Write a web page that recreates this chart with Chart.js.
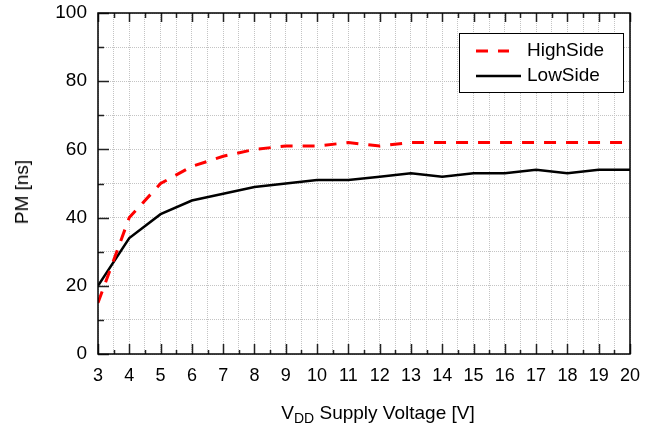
<!DOCTYPE html>
<html>
<head>
<meta charset="utf-8">
<script src="https://cdn.jsdelivr.net/npm/chart.js@4.4.0/dist/chart.umd.min.js"></script>
<style>
  body { margin: 0; background: #fff; }
  #wrap { position: relative; width: 650px; height: 431px; font-family: "Liberation Sans", Arial, sans-serif; color: #000; }
  #xTitle { position: absolute; left: 378px; top: 402px; transform: translateX(-50%); font-size: 19px; white-space: nowrap; }
  #xTitle sub { font-size: 14px; vertical-align: -4px; line-height: 0; }
  #yTitle { position: absolute; left: 22px; top: 192px; transform: translate(-50%, -50%) rotate(-90deg); font-size: 19px; white-space: nowrap; }
</style>
</head>
<body>
<div id="wrap">
  <canvas id="chart" width="650" height="431"></canvas>
  <div id="xTitle">V<sub>DD</sub> Supply Voltage [V]</div>
  <div id="yTitle">PM [ns]</div>
</div>
<script>
// supply voltage (V) and propagation delay (ns)
const voltage = [3, 4, 5, 6, 7, 8, 9, 10, 11, 12, 13, 14, 15, 16, 17, 18, 19, 20];
const highSide = [15, 40, 50, 55, 58, 60, 61, 61, 62, 61, 62, 62, 62, 62, 62, 62, 62, 62];
const lowSide = [20, 34, 41, 45, 47, 49, 50, 51, 51, 52, 53, 52, 53, 53, 54, 53, 54, 54];
const seriesNames = ['HighSide', 'LowSide'];

const FONT = '"Liberation Sans", Arial, sans-serif';

const toPoints = (ys) => voltage.map((v, i) => ({ x: v, y: ys[i] }));

// frame, inward tick marks and the boxed legend
const framePlugin = {
  id: 'frame',
  afterDatasetsDraw(chart) {
    const { ctx, chartArea: a, scales } = chart;
    ctx.save();
    ctx.strokeStyle = '#222';
    ctx.lineWidth = 1.5;
    ctx.beginPath();
    scales.x.ticks.forEach((t) => {
      const px = Math.round(scales.x.getPixelForValue(t.value)) + 0.5;
      const major = Number.isInteger(t.value);
      ctx.moveTo(px, a.bottom);
      ctx.lineTo(px, a.bottom - (major ? 10 : 4));
      ctx.moveTo(px, a.top);
      ctx.lineTo(px, a.top + (major ? 9 : 5));
    });
    scales.y.ticks.forEach((t) => {
      const py = Math.round(scales.y.getPixelForValue(t.value)) + 0.5;
      const major = t.value % 20 === 0;
      ctx.moveTo(a.left, py);
      ctx.lineTo(a.left + (major ? 11 : 6), py);
    });
    ctx.stroke();

    ctx.strokeStyle = '#000';
    ctx.lineWidth = 1.5;
    ctx.strokeRect(a.left, a.top, a.right - a.left, a.bottom - a.top);

    // legend box
    const bx = a.right - 171, by = a.top + 20, bw = 164, bh = 59;
    ctx.fillStyle = '#fff';
    ctx.fillRect(bx, by, bw, bh);
    ctx.lineWidth = 1;
    ctx.strokeRect(bx + 0.5, by + 0.5, bw, bh);
    ctx.font = '19px ' + FONT;
    ctx.textBaseline = 'middle';
    chart.data.datasets.forEach((ds, i) => {
      const ly = by + 18 + i * 25;
      ctx.strokeStyle = ds.borderColor;
      ctx.lineWidth = ds.borderWidth;
      ctx.setLineDash(ds.borderDash || []);
      ctx.beginPath();
      ctx.moveTo(bx + 17, ly);
      ctx.lineTo(bx + (ds.borderDash ? 50 : 62), ly);
      ctx.stroke();
      ctx.setLineDash([]);
      ctx.fillStyle = '#000';
      ctx.fillText(ds.label, bx + 68, ly);
    });
    ctx.restore();
  }
};

new Chart(document.getElementById('chart'), {
  type: 'line',
  data: {
    datasets: [
      {
        label: seriesNames[0],
        data: toPoints(highSide),
        borderColor: '#ff0000',
        borderWidth: 3,
        borderDash: [12, 10],
        pointRadius: 0,
        tension: 0
      },
      {
        label: seriesNames[1],
        data: toPoints(lowSide),
        borderColor: '#000000',
        borderWidth: 2.5,
        pointRadius: 0,
        tension: 0
      }
    ]
  },
  options: {
    responsive: false,
    animation: false,
    layout: { padding: { top: 13, right: 20, left: 0, bottom: 0 } },
    plugins: { legend: { display: false }, tooltip: { enabled: false } },
    scales: {
      x: {
        type: 'linear',
        min: 3,
        max: 20,
        afterFit(scale) { scale.height = 77; scale.paddingLeft = 0; scale.paddingRight = 0; },
        ticks: {
          stepSize: 0.5,
          autoSkip: false,
          maxRotation: 0,
          padding: 11,
          color: '#000',
          font: { family: FONT, size: 18 },
          callback: (v) => (Number.isInteger(v) ? String(v) : '')
        },
        grid: { color: '#c4c4c4', lineWidth: 1, drawTicks: false },
        border: { display: false, dash: [1, 1] }
      },
      y: {
        min: 0,
        max: 100,
        afterFit(scale) { scale.width = 98; scale.paddingTop = 0; scale.paddingBottom = 0; },
        ticks: {
          stepSize: 10,
          padding: 11,
          color: '#000',
          font: { family: FONT, size: 19 },
          callback: (v) => (v % 20 === 0 ? String(v) : '')
        },
        grid: { color: '#c4c4c4', lineWidth: 1, drawTicks: false },
        border: { display: false, dash: [1, 1] }
      }
    }
  },
  plugins: [framePlugin]
});
</script>
</body>
</html>
